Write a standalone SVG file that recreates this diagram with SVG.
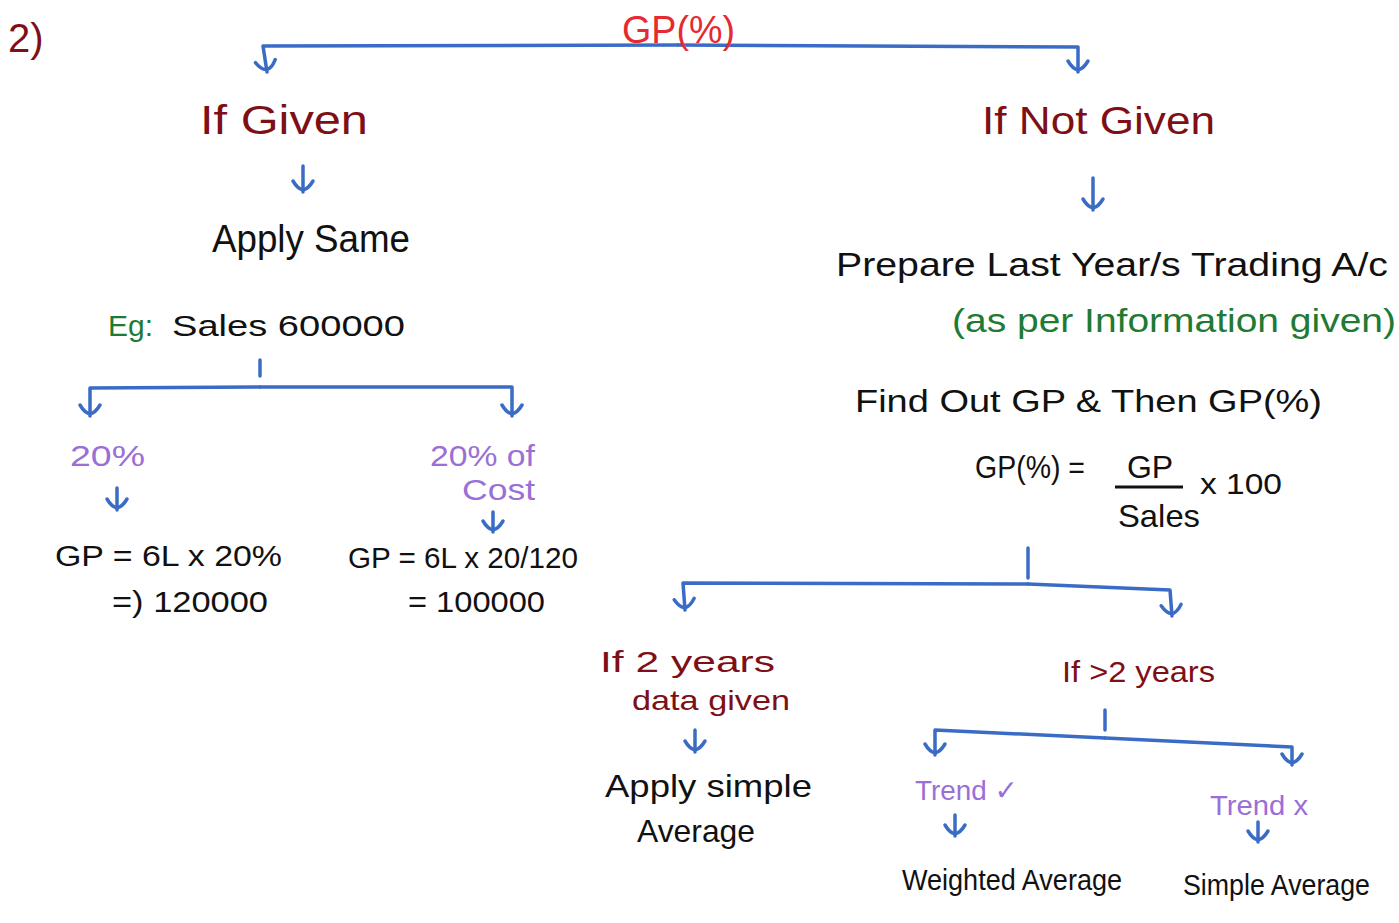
<svg xmlns="http://www.w3.org/2000/svg" width="1399" height="923" viewBox="0 0 1399 923">
<defs>
<marker id="ah" markerUnits="userSpaceOnUse" orient="auto" refX="0" refY="0" markerWidth="30" markerHeight="30" viewBox="-15 -15 30 30" overflow="visible">
<path d="M -11 -10 Q 6 0 -11 10" fill="none" stroke="#3a6cc6" stroke-width="3.5" stroke-linecap="round"/>
</marker>
<style>
text{font-family:"Liberation Sans","DejaVu Sans",sans-serif}
.dr{fill:#7e0f16}
.rd{fill:#e52a31}
.bk{fill:#111}
.gr{fill:#1f7a33}
.pu{fill:#9a6fd6}
.c path{fill:none;stroke:#3a6cc6;stroke-width:3.5;stroke-linecap:round;stroke-linejoin:round}
.c path.a{marker-end:url(#ah)}
</style>
</defs>
<rect width="1399" height="923" fill="#ffffff"/>

<g id="connectors" class="c">
<path class="a" d="M 678 45 L 263 46 L 267 72"/>
<path class="a" d="M 678 45 L 1078 47 L 1078 72"/>
<path class="a" d="M 303 166 L 303 192"/>
<path d="M 260 360 L 260 376"/>
<path class="a" d="M 260 387 L 90 388 L 90 416"/>
<path class="a" d="M 260 387 L 512 387 L 512 416"/>
<path class="a" d="M 117 488 L 117 510"/>
<path class="a" d="M 493 512 L 493 532"/>
<path class="a" d="M 1093 178 L 1093 210"/>
<path d="M 1028 548 L 1028 578"/>
<path class="a" d="M 1028 584 L 683 583 L 685 610"/>
<path class="a" d="M 1028 584 L 1170 590 L 1172 616"/>
<path class="a" d="M 695 730 L 695 752"/>
<path d="M 1105 710 L 1105 730"/>
<path class="a" d="M 1105 738 L 935 730 L 935 755"/>
<path class="a" d="M 1105 738 L 1292 747 L 1292 765"/>
<path class="a" d="M 955 815 L 955 836"/>
<path class="a" d="M 1258 822 L 1258 842"/>
</g>

<g id="label-2"><text class="dr" x="8" y="52" font-size="40">2)</text></g>
<g id="root"><text class="rd" x="622" y="43" font-size="38" textLength="113" lengthAdjust="spacingAndGlyphs">GP(%)</text></g>

<g id="if-given"><text class="dr" x="200" y="134" font-size="40" textLength="168" lengthAdjust="spacingAndGlyphs">If Given</text></g>
<g id="apply-same"><text class="bk" x="212" y="252" font-size="38" textLength="198" lengthAdjust="spacingAndGlyphs">Apply Same</text></g>
<g id="example">
<text class="gr" x="108" y="336" font-size="30">Eg:</text>
<text class="bk" x="172" y="336" font-size="30" textLength="233" lengthAdjust="spacingAndGlyphs">Sales 600000</text>
</g>
<g id="pct-20"><text class="pu" x="70" y="466" font-size="30" textLength="75" lengthAdjust="spacingAndGlyphs">20%</text></g>
<g id="pct-20-cost">
<text class="pu" x="430" y="466" font-size="30" textLength="105" lengthAdjust="spacingAndGlyphs">20% of</text>
<text class="pu" x="462" y="500" font-size="30" textLength="73" lengthAdjust="spacingAndGlyphs">Cost</text>
</g>
<g id="gp-sales">
<text class="bk" x="55" y="566" font-size="30" textLength="227" lengthAdjust="spacingAndGlyphs">GP = 6L x 20%</text>
<text class="bk" x="112" y="612" font-size="30" textLength="156" lengthAdjust="spacingAndGlyphs">=) 120000</text>
</g>
<g id="gp-cost">
<text class="bk" x="348" y="568" font-size="30" textLength="230" lengthAdjust="spacingAndGlyphs">GP = 6L x 20/120</text>
<text class="bk" x="408" y="612" font-size="30" textLength="137" lengthAdjust="spacingAndGlyphs">= 100000</text>
</g>

<g id="if-not-given"><text class="dr" x="982" y="134" font-size="38" textLength="233" lengthAdjust="spacingAndGlyphs">If Not Given</text></g>
<g id="prepare">
<text class="bk" x="836" y="276" font-size="34" textLength="552" lengthAdjust="spacingAndGlyphs">Prepare Last Year/s Trading A/c</text>
<text class="gr" x="952" y="332" font-size="34" textLength="444" lengthAdjust="spacingAndGlyphs">(as per Information given)</text>
</g>
<g id="find-out">
<text class="bk" x="855" y="412" font-size="32" textLength="467" lengthAdjust="spacingAndGlyphs">Find Out GP &amp; Then GP(%)</text>
<text class="bk" x="975" y="478" font-size="32" textLength="110" lengthAdjust="spacingAndGlyphs">GP(%) =</text>
<text class="bk" x="1150" y="478" font-size="32" text-anchor="middle">GP</text>
<path d="M 1115 487 L 1183 487" stroke="#111" stroke-width="3" fill="none"/>
<text class="bk" x="1118" y="527" font-size="32" textLength="82" lengthAdjust="spacingAndGlyphs">Sales</text>
<text class="bk" x="1200" y="494" font-size="30" textLength="82" lengthAdjust="spacingAndGlyphs">x 100</text>
</g>

<g id="two-years">
<text class="dr" x="600" y="672" font-size="30" textLength="175" lengthAdjust="spacingAndGlyphs">If 2 years</text>
<text class="dr" x="632" y="710" font-size="28" textLength="158" lengthAdjust="spacingAndGlyphs">data given</text>
</g>
<g id="apply-simple">
<text class="bk" x="605" y="797" font-size="32" textLength="207" lengthAdjust="spacingAndGlyphs">Apply simple</text>
<text class="bk" x="637" y="842" font-size="32" textLength="118" lengthAdjust="spacingAndGlyphs">Average</text>
</g>
<g id="more-years"><text class="dr" x="1062" y="682" font-size="30" textLength="153" lengthAdjust="spacingAndGlyphs">If &gt;2 years</text></g>
<g id="trend-yes"><text class="pu" x="915" y="800" font-size="28" textLength="103" lengthAdjust="spacingAndGlyphs">Trend ✓</text></g>
<g id="trend-no"><text class="pu" x="1210" y="815" font-size="28" textLength="98" lengthAdjust="spacingAndGlyphs">Trend x</text></g>
<g id="weighted"><text class="bk" x="902" y="890" font-size="29" textLength="220" lengthAdjust="spacingAndGlyphs">Weighted Average</text></g>
<g id="simple"><text class="bk" x="1183" y="895" font-size="29" textLength="187" lengthAdjust="spacingAndGlyphs">Simple Average</text></g>
</svg>
